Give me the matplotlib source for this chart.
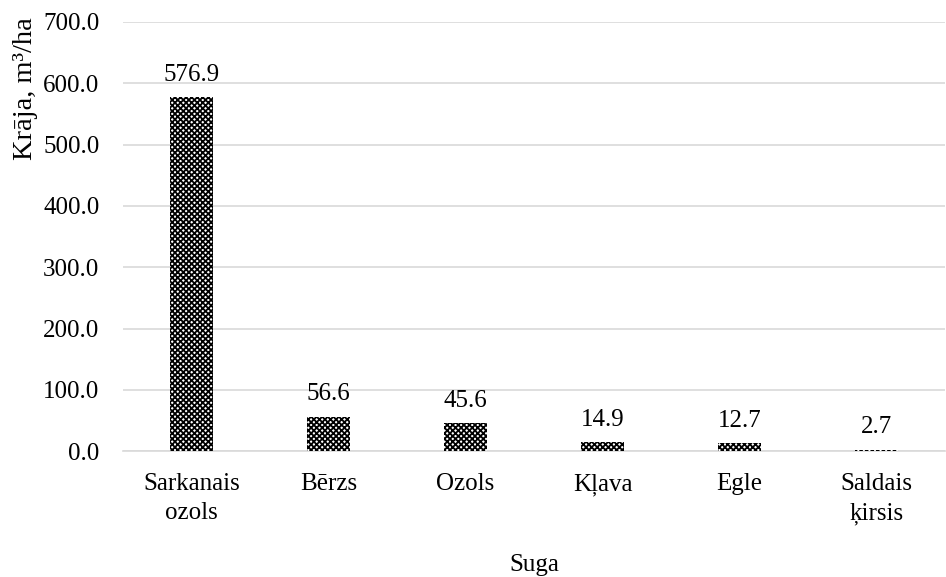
import numpy as np
import matplotlib.pyplot as plt

species = ["Sarkanais\nozols", "Bērzs", "Ozols", "Kļava", "Egle", "Saldais\nķirsis"]
volume = [576.9, 56.6, 45.6, 14.9, 12.7, 2.7]
yticks = [0, 100, 200, 300, 400, 500, 600, 700]

plt.rcParams['font.family'] = ['Liberation Serif', 'DejaVu Serif']
plt.rcParams['font.size'] = 18
plt.rcParams['hatch.linewidth'] = 1.3

fig = plt.figure(figsize=(9.46, 5.77), dpi=100)
ax = fig.add_axes([0.130, 0.218, 0.869, 0.744])

x = np.arange(len(species))
bars = ax.bar(x, volume, width=0.32, color="white", edgecolor="black",
              hatch="xxxxxx", linewidth=0, zorder=3)

for xi, v in zip(x, volume):
    ax.annotate(f"{v:.1f}", (xi, v), xytext=(0, 8), textcoords="offset points",
                ha="center", va="bottom", fontsize=18)

ax.set_xlim(-0.5, len(species) - 0.5)
ax.set_ylim(0, 700)
ax.set_yticks(yticks)
ax.set_yticklabels([f"{t:.1f}" for t in yticks])
ax.set_xticks(x)
ax.set_xticklabels(species, linespacing=1.4)
ax.tick_params(length=0)
ax.tick_params(axis="y", pad=17)
ax.tick_params(axis="x", pad=16)
ax.grid(axis="y", color="#d9d9d9", linewidth=1.2, zorder=0)
for s in ["top", "right"]:
    ax.spines[s].set_visible(False)
ax.spines["left"].set_visible(False)
ax.spines["bottom"].set_color("#d9d9d9")
ax.spines["bottom"].set_linewidth(1.2)

ax.set_ylabel("Krāja, m³/ha", fontsize=20.5)
ax.yaxis.set_label_coords(-0.103, 0.844)
ax.set_xlabel("Suga", fontsize=18)
ax.xaxis.set_label_coords(0.5, -0.24)

fig.savefig("out.png", dpi=100)
